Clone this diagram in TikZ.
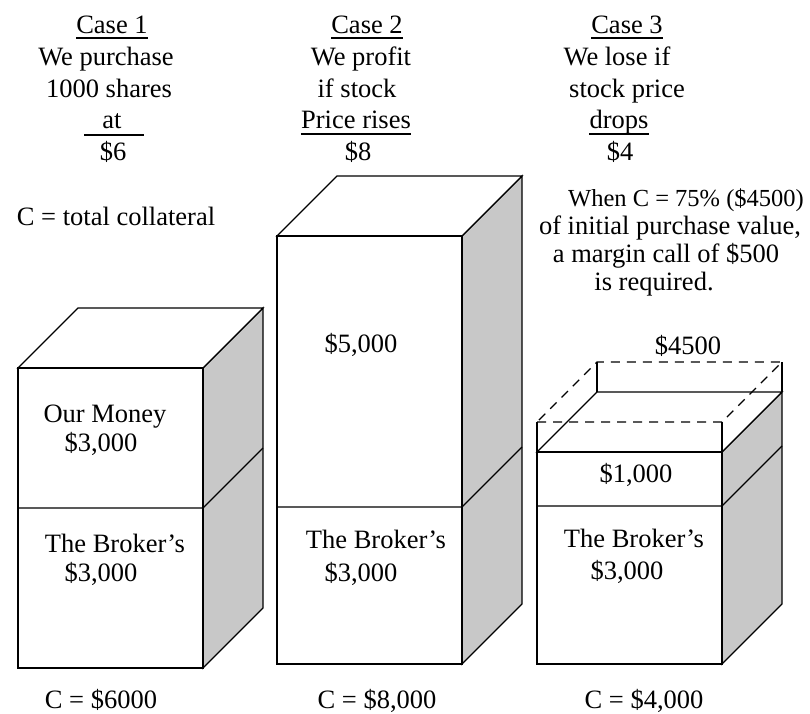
\documentclass[tikz,border=0pt]{standalone}
\usepackage{fontspec}
\setmainfont{Liberation Serif}
\definecolor{sidegray}{RGB}{200,200,200}
\pgfkeys{tikz/mylabel/.style={font=\fontsize{26.5}{30}\selectfont,inner sep=0pt,anchor=base}}
\pgfkeys{tikz/myedge/.style={line width=1.3pt,line join=miter}}
\pgfkeys{tikz/mydash/.style={dash pattern=on 9pt off 7pt}}
\newcommand*\mycube[6]{% name, left, right, top, middle, bottom
  \coordinate (#1-nw) at (#2,#4);
  \coordinate (#1-ne) at (#3,#4);
  \coordinate (#1-sw) at (#2,#6);
  \coordinate (#1-se) at (#3,#6);
  \coordinate (#1-mw) at (#2,#5);
  \coordinate (#1-me) at (#3,#5);
  \draw[myedge,fill=sidegray] (#1-ne) -- ++(60,-60) -- ([shift={(60,-60)}]#1-se) -- (#1-se) -- cycle;
  \draw[myedge,fill=white] (#1-nw) -- ++(60,-60) -- ([shift={(60,-60)}]#1-ne) -- (#1-ne) -- cycle;
  \draw[myedge,fill=white] (#1-nw) rectangle (#1-se);
  \draw[myedge] (#1-mw) -- (#1-me) -- ++(60,-60);
}

\begin{document}
\begin{tikzpicture}[x=1pt,y=-1pt]
\useasboundingbox[fill=white] (0,0) rectangle (810,713);

% the three cubes
\mycube{b1}{18}{203}{368}{508}{668}
\mycube{b2}{277}{462}{236}{507}{664}
\mycube{b3}{537}{722}{452}{506}{664}

% collateral needed for the margin call
\draw[myedge] (b3-nw) -- ++(0,-30) (b3-ne) -- ++(0,-30)
  ([shift={(60,-60)}]b3-nw) -- ++(0,-30) ([shift={(60,-60)}]b3-ne) -- ++(0,-30);
\draw[myedge,mydash] ([yshift=30pt]b3-nw) -- ([yshift=30pt]b3-ne) -- ++(60,-60) -- ++(-185,0) -- cycle;

% texts
\foreach \n/\x/\y/\t in {
    h1/112/33/Case 1, h2/106/65/We purchase, h3/109/97/1000 shares, h4/112/128/at, h5/113/160/\$6,
    k1/367/33/Case 2, k2/361/65/We profit, k3/357/97/if stock, k4/356/128/Price rises, k5/358/160/\$8,
    m1/627/33/Case 3, m2/617/65/We lose if, m3/627/97/stock price, m4/619/128/drops, m5/620/160/\$4,
    cc/116/225/C = total collateral,
    n2/670/234/{of initial purchase value,},
    n3/666/262/a margin call of \$500, n4/654/290/is required.,
    o1/105/422/Our Money, o2/101/451/{\$3,000}, o3/115/552/The Broker's, o4/101/581/{\$3,000}, o5/101/708/C = \$6000,
    p1/361/352/{\$5,000}, p2/376/548/The Broker's, p3/361/581/{\$3,000}, p4/377/708/{C = \$8,000},
    q1/636/482/{\$1,000}, q2/634/547/The Broker's, q3/627/579/{\$3,000}, q4/644/708/{C = \$4,000}, q5/688/354/\$4500}
  \node[mylabel] (\n) at (\x,\y) {\t};
\node[mylabel,font=\fontsize{24.5}{30}\selectfont] (n1) at (686,206) {When C = 75\% (\$4500)};

% underlines
\foreach \n in {h1,k1,m1}
  \draw[myedge] ([yshift=-5pt]\n.base west) -- ([yshift=-5pt]\n.base east);
\foreach \n in {k4,m4}
  \draw[myedge] ([yshift=-6pt]\n.base west) -- ([yshift=-6pt]\n.base east);
\draw[myedge] ([xshift=-18pt,yshift=-7pt]h4.base west) -- ([xshift=22pt,yshift=-7pt]h4.base east);

\end{tikzpicture}
\end{document}
